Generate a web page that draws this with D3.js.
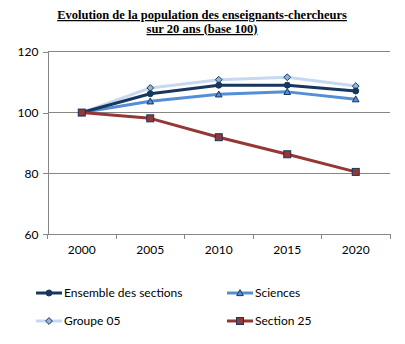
<!DOCTYPE html>
<html>
<head>
<meta charset="utf-8">
<script src="https://cdn.jsdelivr.net/npm/d3@7"></script>
<style>
  body { margin: 0; background: #fff; }
  svg { display: block; }
</style>
</head>
<body>
<svg id="chart" width="405" height="344"></svg>
<script>
// Data
const years = ['2000', '2005', '2010', '2015', '2020'];
const yTicks = [60, 80, 100, 120];
const ensemble = [100, 106.2, 109.0, 109.0, 107.1];
const sciences = [100, 103.7, 106.0, 106.8, 104.4];
const groupe05 = [100, 108.1, 110.8, 111.6, 108.7];
const section25 = [100, 98.1, 91.9, 86.3, 80.5];

const series = [
  { name: 'Groupe 05', values: groupe05, line: '#c6d9f1', fill: '#95b3d7', marker: 'diamond' },
  { name: 'Sciences', values: sciences, line: '#558ed5', fill: '#558ed5', marker: 'triangle' },
  { name: 'Ensemble des sections', values: ensemble, line: '#17375e', fill: '#17375e', marker: 'circle' },
  { name: 'Section 25', values: section25, line: '#953735', fill: '#953735', marker: 'square' }
];

const svg = d3.select('#chart');
const plot = { left: 47.5, right: 390, top: 51.7, bottom: 234.3 };
const sans = 'Lato, "Open Sans", "Liberation Sans", sans-serif';

const x = d3.scaleBand().domain(years).range([plot.left, plot.right]);
const y = d3.scaleLinear().domain([60, 120]).range([plot.bottom, plot.top]);

// Title
const title = svg.append('text')
  .attr('text-anchor', 'middle')
  .attr('font-family', '"Liberation Serif", "Times New Roman", serif')
  .attr('font-weight', 'bold')
  .attr('font-size', 12.5)
  .attr('text-decoration', 'underline')
  .attr('fill', '#000');
title.append('tspan').attr('x', 202).attr('y', 19).text('Evolution de la population des enseignants-chercheurs');
title.append('tspan').attr('x', 202).attr('y', 33).text('sur 20 ans (base 100)');

// Gridlines
svg.append('g')
  .selectAll('line')
  .data(yTicks.filter(d => d > 60))
  .join('line')
  .attr('x1', plot.left).attr('x2', plot.right)
  .attr('y1', d => y(d)).attr('y2', d => y(d))
  .attr('stroke', '#868686').attr('stroke-width', 1)
  .attr('shape-rendering', 'crispEdges');

// Y axis
const yAxis = svg.append('g')
  .attr('transform', `translate(${plot.left},0)`)
  .call(d3.axisLeft(y).tickValues(yTicks).tickSize(5).tickPadding(4));
yAxis.select('.domain').attr('stroke', '#868686').attr('shape-rendering', 'crispEdges');
yAxis.selectAll('.tick line').attr('stroke', '#868686').attr('shape-rendering', 'crispEdges');
yAxis.selectAll('text')
  .attr('font-family', sans)
  .attr('font-size', 12).attr('fill', '#000');

// X axis: ticks between categories
const xAxis = svg.append('g')
  .attr('transform', `translate(0,${plot.bottom})`);
xAxis.append('line')
  .attr('x1', plot.left).attr('x2', plot.right)
  .attr('y1', 0).attr('y2', 0)
  .attr('stroke', '#868686').attr('shape-rendering', 'crispEdges');
const bounds = years.map(d => x(d)).concat([x.range()[1]]);
xAxis.selectAll('line.tk')
  .data(bounds)
  .join('line')
  .attr('class', 'tk')
  .attr('x1', d => d).attr('x2', d => d)
  .attr('y1', 0).attr('y2', 5)
  .attr('stroke', '#868686').attr('shape-rendering', 'crispEdges');
xAxis.selectAll('text')
  .data(years)
  .join('text')
  .attr('x', d => x(d) + x.bandwidth() / 2)
  .attr('y', 20)
  .attr('text-anchor', 'middle')
  .attr('font-family', sans)
  .attr('font-size', 12).attr('fill', '#000')
  .text(d => d);

const cx = (d, i) => x(years[i]) + x.bandwidth() / 2;

function drawMarker(g, type, fill) {
  const stroke = '#17375e';
  if (type === 'circle') {
    g.append('circle').attr('r', 3).attr('fill', fill).attr('stroke', stroke).attr('stroke-width', 1);
  } else if (type === 'triangle') {
    const s = 3.3;
    g.append('path').attr('d', `M0,${-s}L${s},${s * 0.8}L${-s},${s * 0.8}Z`)
      .attr('fill', fill).attr('stroke', stroke).attr('stroke-width', 1);
  } else if (type === 'diamond') {
    const s = 3.4;
    g.append('path').attr('d', `M0,${-s}L${s},0L0,${s}L${-s},0Z`)
      .attr('fill', fill).attr('stroke', stroke).attr('stroke-width', 1);
  } else {
    const s = 3.5;
    g.append('rect').attr('x', -s).attr('y', -s).attr('width', 2 * s).attr('height', 2 * s)
      .attr('fill', fill).attr('stroke', stroke).attr('stroke-width', 1);
  }
}

const line = d3.line().x(cx).y(d => y(d));

series.forEach(s => {
  svg.append('path')
    .datum(s.values)
    .attr('d', line)
    .attr('fill', 'none')
    .attr('stroke', s.line)
    .attr('stroke-width', 3)
    .attr('stroke-linejoin', 'round');
  s.values.forEach((v, i) => {
    const g = svg.append('g').attr('transform', `translate(${cx(v, i)},${y(v)})`);
    drawMarker(g, s.marker, s.fill);
  });
});

// Legend
const legendItems = [
  { s: series[2], x: 36, y: 293 },
  { s: series[1], x: 227, y: 293 },
  { s: series[0], x: 36, y: 321 },
  { s: series[3], x: 227, y: 321 }
];
const legend = svg.append('g');
legendItems.forEach(it => {
  const g = legend.append('g').attr('transform', `translate(${it.x},${it.y})`);
  g.append('line').attr('x1', 0).attr('x2', 26).attr('y1', 0).attr('y2', 0)
    .attr('stroke', it.s.line).attr('stroke-width', 3);
  const m = g.append('g').attr('transform', 'translate(13,0)');
  drawMarker(m, it.s.marker, it.s.fill);
  g.append('text').attr('x', 28).attr('y', 4)
    .attr('font-family', sans)
    .attr('font-size', 12).attr('fill', '#000')
    .text(it.s.name);
});
</script>
</body>
</html>
